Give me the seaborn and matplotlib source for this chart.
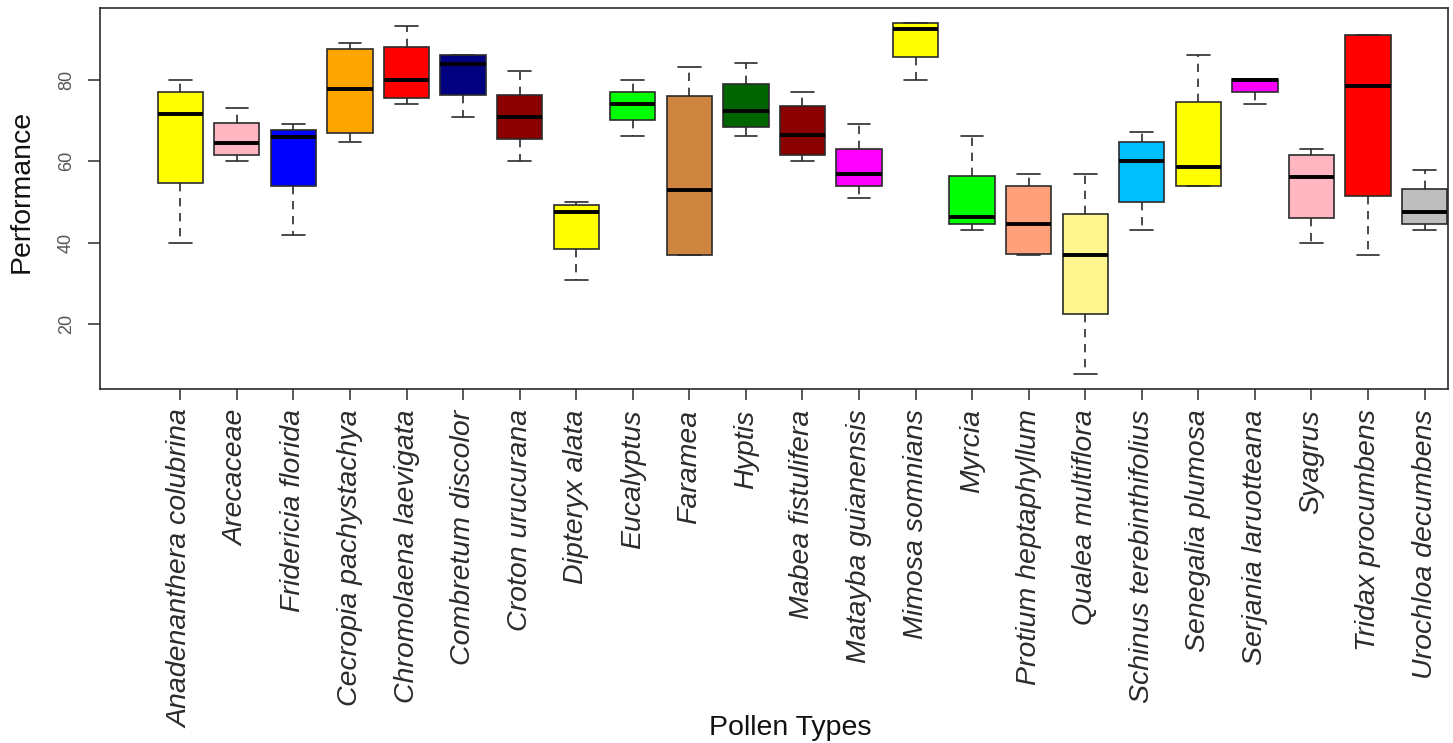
import pandas as pd
import matplotlib.pyplot as plt
import seaborn as sns

# pollen types, in plotting order
pollen = [
    "Anadenanthera colubrina", "Arecaceae", "Fridericia florida",
    "Cecropia pachystachya", "Chromolaena laevigata", "Combretum discolor",
    "Croton urucurana", "Dipteryx alata", "Eucalyptus", "Faramea", "Hyptis",
    "Mabea fistulifera", "Matayba guianensis", "Mimosa somnians", "Myrcia",
    "Protium heptaphyllum", "Qualea multiflora", "Schinus terebinthifolius",
    "Senegalia plumosa", "Serjania laruotteana", "Syagrus",
    "Tridax procumbens", "Urochloa decumbens",
]

# five-number summaries
low = [40.0, 60.0, 41.8, 64.8, 74.0, 71.0, 60.0, 30.8, 66.2, 36.9, 66.2, 60.0,
       50.9, 80.1, 43.0, 36.9, 7.8, 43.0, 53.9, 74.0, 40.0, 36.9, 43.0]
q1 = [54.6, 61.5, 53.9, 67.0, 75.5, 76.3, 65.5, 38.5, 70.1, 36.9, 68.5, 61.6,
      53.9, 85.6, 44.5, 37.2, 22.4, 50.0, 53.9, 77.0, 46.0, 51.5, 44.5]
median = [71.6, 64.5, 66.1, 77.7, 80.0, 84.0, 71.0, 47.6, 74.0, 53.0, 72.5, 66.4,
          57.0, 92.5, 46.3, 44.5, 36.9, 60.0, 58.5, 80.0, 56.1, 78.6, 47.5]
q3 = [77.0, 69.4, 67.6, 87.6, 88.2, 86.1, 76.4, 49.3, 77.0, 76.1, 79.1, 73.6,
      63.0, 94.0, 56.4, 53.9, 47.0, 64.8, 74.6, 80.2, 61.6, 91.1, 53.3]
high = [80.0, 73.0, 69.2, 89.2, 93.2, 86.1, 82.2, 50.0, 80.0, 83.1, 84.1, 77.0,
        69.2, 94.0, 66.2, 57.0, 57.0, 67.1, 86.1, 80.2, 63.0, 91.1, 57.9]

colours = [
    "#FFFF00", "#FFB6C1", "#0000FF", "#FFA500", "#FF0000", "#000080",
    "#8B0000", "#FFFF00", "#00FF00", "#CD853F", "#006400", "#8B0000",
    "#FF00FF", "#FFFF00", "#00FF00", "#FFA07A", "#FFF68F", "#00BFFF",
    "#FFFF00", "#FF00FF", "#FFB6C1", "#FF0000", "#BEBEBE",
]

rows = []
for i, name in enumerate(pollen):
    for v in (low[i], q1[i], median[i], q3[i], high[i]):
        rows.append({"pollen": name, "performance": v})
df = pd.DataFrame(rows)

sns.set_theme(style="white")
plt.rcParams["font.family"] = ["Liberation Sans", "DejaVu Sans"]

fig = plt.figure(figsize=(14.53, 7.43), dpi=100)
ax = fig.add_axes([0.0688, 0.4769, 0.928, 0.5123])

sns.boxplot(
    data=df, x="pollen", y="performance", hue="pollen",
    order=pollen, hue_order=pollen, palette=colours, legend=False,
    saturation=1, width=0.8, whis=(0, 100), linecolor="#2b2b2b",
    linewidth=1.2, showfliers=False,
    medianprops={"color": "black", "linewidth": 2.8},
    whiskerprops={"linestyle": (0, (5, 4)), "color": "#2b2b2b"},
    capprops={"color": "#2b2b2b"},
    ax=ax,
)

ax.set_xlim(-1.42, 22.42)
ax.set_ylim(4.1, 97.7)
ax.set_yticks([20, 40, 60, 80])
ax.set_xticks(range(len(pollen)))
ax.set_xticklabels(pollen, rotation=90, fontsize=20.5, style="italic",
                   color="#111111")
for lab in ax.get_yticklabels():
    lab.set_rotation(90)
    lab.set_va("center")
ax.tick_params(axis="y", labelsize=13, colors="#2b2b2b", labelcolor="#555555",
               length=9, width=1.1, direction="out", left=True, pad=9)
ax.tick_params(axis="x", length=8, width=1.1, direction="out", bottom=True,
               colors="#2b2b2b", pad=7)

for sp in ax.spines.values():
    sp.set_visible(True)
    sp.set_color("#2b2b2b")
    sp.set_linewidth(1.2)

ax.set_xlabel("Pollen Types", fontsize=20.5, color="#111111", va="center")
ax.set_ylabel("Performance", fontsize=20.5, color="#111111", va="center")
ax.xaxis.set_label_coords(0.512, -0.891)
ax.yaxis.set_label_coords(-0.058, 0.518)

fig.savefig("out.png", dpi=100)
